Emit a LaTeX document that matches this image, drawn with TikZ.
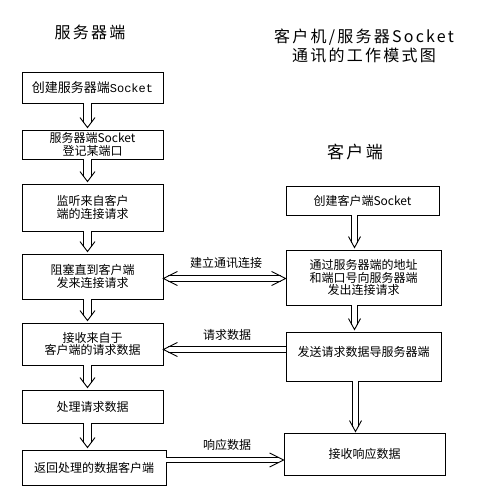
\documentclass[tikz,border=0pt]{standalone}
\usepackage{fontspec}
\setmainfont{Noto Sans CJK SC}
\newfontfamily\spacedcjk[LetterSpace=14]{Noto Sans CJK SC}
\newfontfamily\monof{Liberation Mono}
\usetikzlibrary{decorations.markings,calc}
\tikzset{
  lw/.style={line width=0.9pt},
  box/.style={draw, lw, inner sep=0pt, align=center, font=\fontsize{12}{12.5}\selectfont},
  lbl/.style={inner sep=0pt, font=\fontsize{12}{13}\selectfont},
  ttl/.style={inner sep=0pt, align=center, font=\fontsize{16}{19}\selectfont\spacedcjk},
  endhead/.style n args={2}{postaction={decorate, decoration={markings,
      mark=at position 1 with {\draw[lw, shorten >=0pt, shorten <=0pt] (-#1,#2) -- (0,0) -- (-#1,-#2);}}}},
  starthead/.style n args={2}{postaction={decorate, decoration={markings,
      mark=at position 0 with {\draw[lw, shorten >=0pt, shorten <=0pt] (#1,#2) -- (0,0) -- (#1,-#2);}}}},
  sarrow/.style={draw, lw, double, double distance=6.5pt, shorten >=5pt, endhead={10pt}{7.5pt}},
  carrow/.style={draw, lw, double, double distance=4.5pt, shorten >=5pt, endhead={11pt}{6pt}},
  harrow/.style={draw, lw, double, double distance=4.5pt, shorten >=5pt, endhead={14pt}{7pt}},
  hharrow/.style={draw, lw, double, double distance=4.5pt, shorten >=5pt, shorten <=5pt,
      endhead={14pt}{7pt}, starthead={14pt}{7pt}},
}
\begin{document}
\begin{tikzpicture}[x=1pt,y=-1pt]
\useasboundingbox (0,0) rectangle (500,500);

% titles
\node[ttl] (t1) at (90,32) {服务器端};
\node[ttl] (t2) at (364,45.5) {客户机/服务器Socket\\通讯的工作模式图};
\node[ttl, font=\fontsize{17}{19}\selectfont\spacedcjk] (t3) at (355,152) {客户端};

% server column
\node[box, minimum width=141pt, minimum height=31pt] (s1) at (92.5,87.5)
  {\fontsize{13}{14}\selectfont 创建服务器端{\monof\fontsize{12}{14}\selectfont Socket}};
\node[box, minimum width=141pt, minimum height=29pt] (s2) at (92.5,144.5) {服务器端Socket\\登记某端口};
\node[box, minimum width=141pt, minimum height=47pt] (s3) at (92.5,207.5) {监听来自客户\\端的连接请求};
\node[box, minimum width=141pt, minimum height=45pt] (s4) at (92.5,276.5) {阻塞直到客户端\\发来连接请求};
\node[box, minimum width=141pt, minimum height=42pt] (s5) at (92.5,344) {接收来自于\\客户端的请求数据};
\node[box, minimum width=141pt, minimum height=33pt] (s6) at (92.5,406.5) {处理请求数据};
\node[box, minimum width=144pt, minimum height=35pt] (s7) at (94,467.5) {返回处理的数据客户端};

% client column
\node[box, minimum width=153pt, minimum height=29pt] (c1) at (362.5,200.5) {创建客户端Socket};
\node[box, minimum width=155pt, minimum height=55pt] (c2) at (363.5,277.5) {通过服务器端的地址\\和端口号向服务器端\\发出连接请求};
\node[box, minimum width=155pt, minimum height=49pt] (c3) at (363.5,356.5) {发送请求数据导服务器端\\[-7pt]\strut};
\node[box, minimum width=161pt, minimum height=42pt] (c4) at (364.5,454) {接收响应数据};

% server vertical arrows
\draw[sarrow] ($(s1.south)+(-5,0)$) -- ($(s2.north)+(-5,-2)$);
\draw[sarrow] ($(s2.south)+(-5,0)$) -- ($(s3.north)+(-5,-2)$);
\draw[sarrow] ($(s3.south)+(-5,0)$) -- ($(s4.north)+(-5,-2)$);
\draw[sarrow] ($(s4.south)+(-5,0)$) -- ($(s5.north)+(-5,-2)$);
\draw[sarrow] ($(s5.south)+(-5,0)$) -- ($(s6.north)+(-5,-2)$);
\draw[sarrow] ($(s6.south)+(-5,0)$) -- ($(s7.north)+(-6.5,-2)$);

% client vertical arrows
\draw[carrow] ($(c1.south)+(-8,0)$) -- ($(c2.north)+(-9,-2)$);
\draw[carrow] ($(c2.south)+(-9,0)$) -- ($(c3.north)+(-9,-2)$);
\draw[carrow] ($(c3.south)+(-8,0)$) -- ($(c4.north)+(-9,-1)$);

% horizontal arrows
\draw[hharrow] ($(s4.east)+(0,2)$) -- ($(s4.east -| c2.west)+(0,2)$);
\draw[harrow] ($(c3.west)+(0,-7)$) -- ($(s5.east)+(0,5.5)$);
\draw[harrow] ($(s7.east)+(0,-7.5)$) -- ($(c4.west)+(0,6)$);

% labels
\node[lbl] (l1) at (226,263) {建立通讯连接};
\node[lbl] (l2) at (227,335) {请求数据};
\node[lbl] (l3) at (227,445) {响应数据};
\end{tikzpicture}
\end{document}
